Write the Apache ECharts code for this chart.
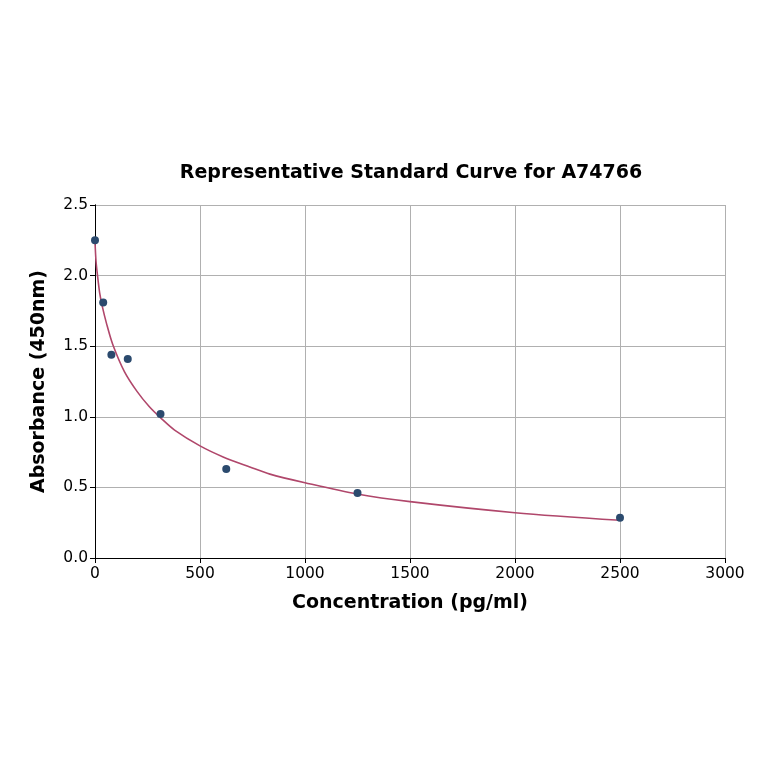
<!DOCTYPE html>
<html>
<head>
<meta charset="utf-8">
<script src="https://cdn.jsdelivr.net/npm/echarts@6/dist/echarts.min.js"></script>
<style>
html,body{margin:0;padding:0;background:#fff;}
#chart{width:764px;height:764px;}
</style>
</head>
<body>
<div id="chart"></div>
<script>
// Measured standards
const concentrations = [0, 39, 78, 156, 312, 625, 1250, 2500];
const absorbances = [2.25, 1.81, 1.44, 1.41, 1.02, 0.63, 0.46, 0.285];
// Fitted curve
const curveX = [0, 5, 12, 22, 35, 55, 85, 140, 200, 259, 315, 379, 500, 610, 737, 833, 1000, 1248, 1500, 2000, 2500];
const curveY = [2.24, 2.10, 2.0, 1.88, 1.78, 1.66, 1.51, 1.32, 1.18, 1.071, 0.989, 0.906, 0.794, 0.716, 0.645, 0.594, 0.533, 0.453, 0.399, 0.321, 0.267];
const xTicks = [0, 500, 1000, 1500, 2000, 2500, 3000];
const yTicks = [0.0, 0.5, 1.0, 1.5, 2.0, 2.5];

const font = 'DejaVu Sans';
const chart = echarts.init(document.getElementById('chart'), null, {renderer: 'canvas'});
const frameAxis = {
  axisLine: {show: true, lineStyle: {color: '#000', width: 1}},
  axisTick: {show: false}, axisLabel: {show: false}, splitLine: {show: false}
};
chart.setOption({
  backgroundColor: '#ffffff',
  animation: false,
  title: {
    text: 'Representative Standard Curve for A74766',
    left: 406, top: 159, textAlign: 'center',
    textStyle: {fontFamily: font, fontSize: 19, fontWeight: 'bold', color: '#000'}
  },
  grid: {left: 95, right: 39, top: 205, bottom: 206},
  xAxis: [{
    type: 'value', min: 0, max: 3000, interval: 500,
    name: 'Concentration (pg/ml)', nameLocation: 'middle', nameGap: 36,
    nameTextStyle: {fontFamily: font, fontSize: 19, fontWeight: 'bold', color: '#000'},
    axisLine: {show: true, lineStyle: {color: '#000', width: 1}},
    axisTick: {show: true, length: 5, lineStyle: {color: '#000'}},
    axisLabel: {fontFamily: font, fontSize: 15.5, color: '#000', margin: 8,
      formatter: v => xTicks.includes(v) ? String(v) : ''},
    splitLine: {show: true, lineStyle: {color: '#b0b0b0', width: 1}}
  }, Object.assign({type: 'value', min: 0, max: 3000, position: 'top'}, frameAxis)],
  yAxis: [{
    type: 'value', min: 0, max: 2.5, interval: 0.5,
    name: 'Absorbance (450nm)', nameLocation: 'middle', nameGap: 46, nameRotate: 90,
    nameTextStyle: {fontFamily: font, fontSize: 19, fontWeight: 'bold', color: '#000'},
    axisLine: {show: true, lineStyle: {color: '#000', width: 1}},
    axisTick: {show: true, length: 5, lineStyle: {color: '#000'}},
    axisLabel: {fontFamily: font, fontSize: 15.5, color: '#000', margin: 7,
      formatter: v => yTicks.some(t => Math.abs(t - v) < 1e-9) ? v.toFixed(1) : ''},
    splitLine: {show: true, lineStyle: {color: '#b0b0b0', width: 1}}
  }, Object.assign({type: 'value', min: 0, max: 2.5, position: 'right'}, frameAxis)],
  series: [
    {
      type: 'line', name: 'fit', smooth: 0.3, showSymbol: false, symbol: 'none',
      data: curveX.map((x, i) => [x, curveY[i]]),
      lineStyle: {color: '#b0476b', width: 1.6}, z: 2
    },
    {
      type: 'scatter', name: 'standards', symbol: 'circle', symbolSize: 8,
      data: concentrations.map((x, i) => [x, absorbances[i]]),
      itemStyle: {color: '#2b4a6e', opacity: 1}, z: 3
    }
  ]
});
</script>
</body>
</html>
